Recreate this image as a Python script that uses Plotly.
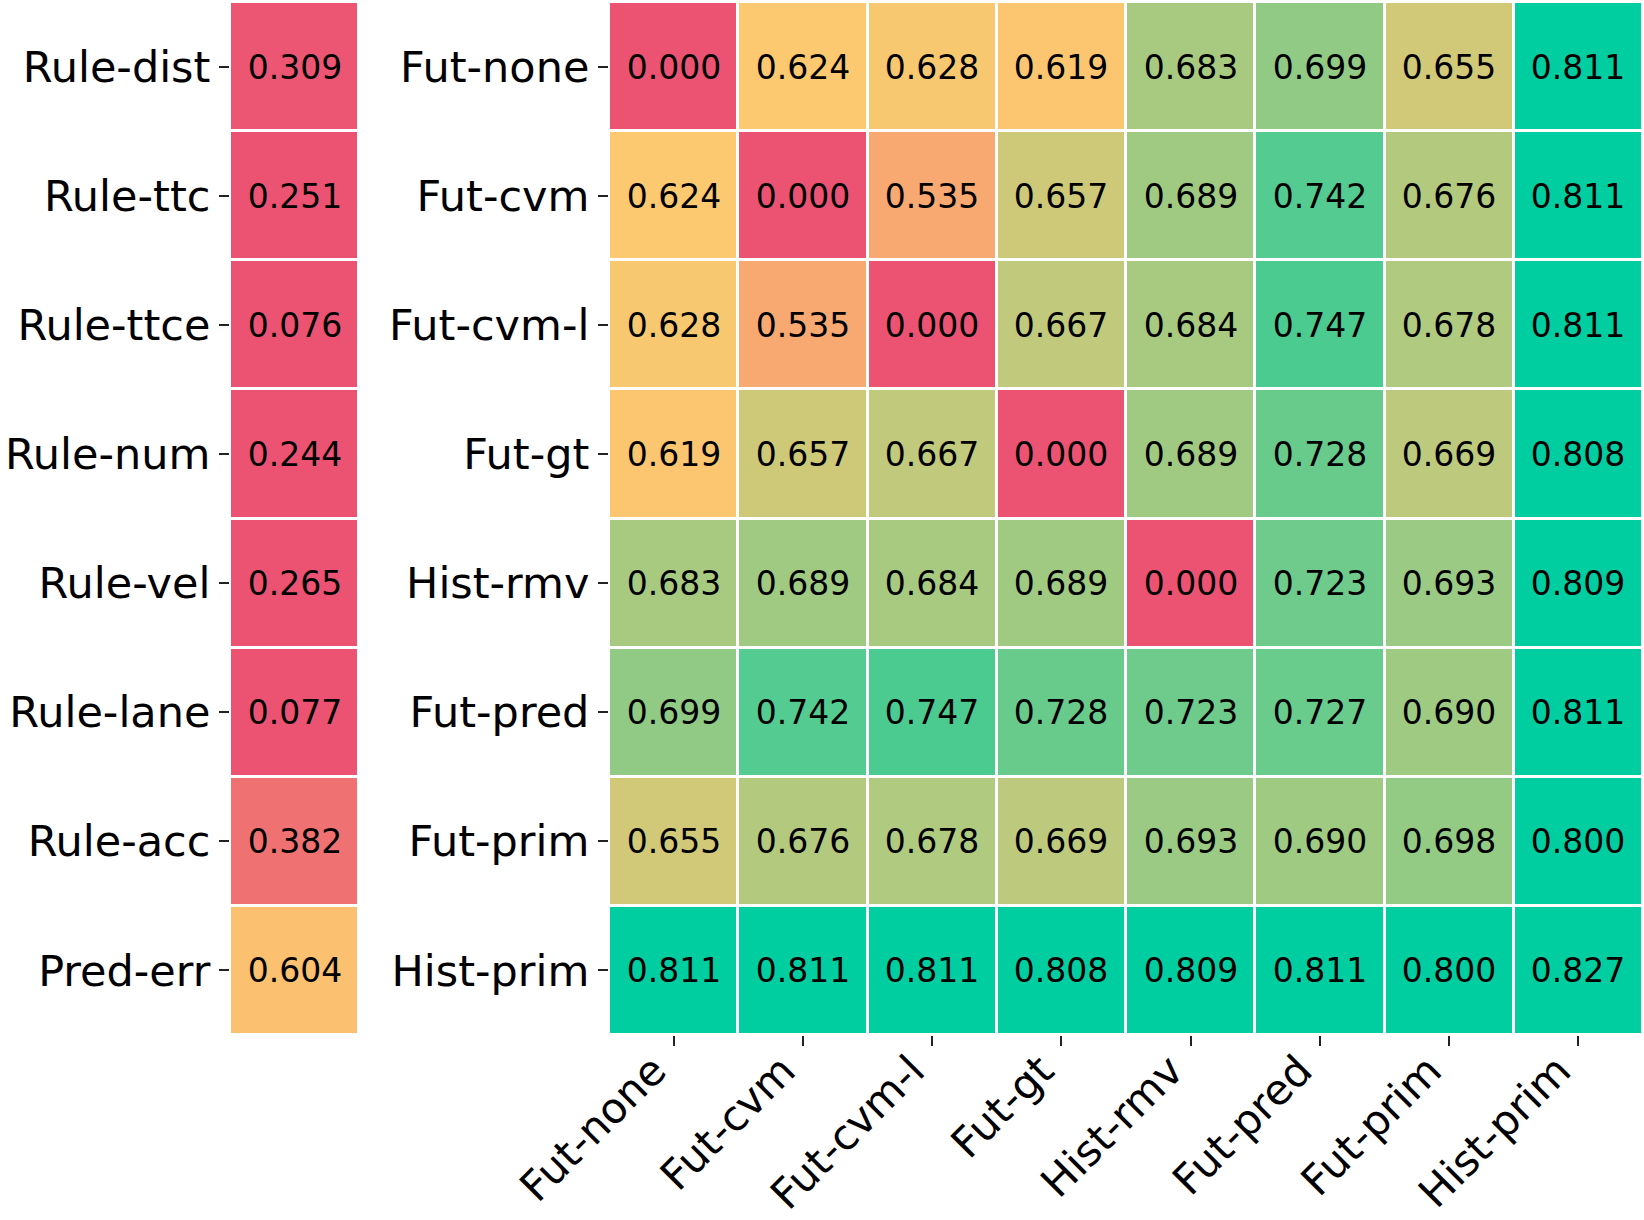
import plotly.graph_objects as go

rule_labels = ["Rule-dist", "Rule-ttc", "Rule-ttce", "Rule-num", "Rule-vel", "Rule-lane", "Rule-acc", "Pred-err"]
rule_values = [0.309, 0.251, 0.076, 0.244, 0.265, 0.077, 0.382, 0.604]

methods = ["Fut-none", "Fut-cvm", "Fut-cvm-l", "Fut-gt", "Hist-rmv", "Fut-pred", "Fut-prim", "Hist-prim"]
row_fut_none = [0.000, 0.624, 0.628, 0.619, 0.683, 0.699, 0.655, 0.811]
row_fut_cvm = [0.624, 0.000, 0.535, 0.657, 0.689, 0.742, 0.676, 0.811]
row_fut_cvm_l = [0.628, 0.535, 0.000, 0.667, 0.684, 0.747, 0.678, 0.811]
row_fut_gt = [0.619, 0.657, 0.667, 0.000, 0.689, 0.728, 0.669, 0.808]
row_hist_rmv = [0.683, 0.689, 0.684, 0.689, 0.000, 0.723, 0.693, 0.809]
row_fut_pred = [0.699, 0.742, 0.747, 0.728, 0.723, 0.727, 0.690, 0.811]
row_fut_prim = [0.655, 0.676, 0.678, 0.669, 0.693, 0.690, 0.698, 0.800]
row_hist_prim = [0.811, 0.811, 0.811, 0.808, 0.809, 0.811, 0.800, 0.827]
matrix = [row_fut_none, row_fut_cvm, row_fut_cvm_l, row_fut_gt,
          row_hist_rmv, row_fut_pred, row_fut_prim, row_hist_prim]

ZMIN, ZMID, ZMAX = 0.30, 0.625, 0.80
colorscale = [
    [0.0, "#EC5373"],
    [(ZMID - ZMIN) / (ZMAX - ZMIN), "#FCC870"],
    [1.0, "#00CDA0"],
]

W, H = 1644, 1220
FONT = "DejaVu Sans"

def px_x(p):
    return p / W

def px_y(p):
    return 1 - p / H

fig = go.Figure()

fig.add_trace(go.Heatmap(
    z=[[v] for v in rule_values],
    x=["v"],
    y=rule_labels,
    zmin=ZMIN, zmax=ZMAX,
    colorscale=colorscale,
    showscale=False,
    xgap=3, ygap=3,
    texttemplate="%{z:.3f}",
    textfont=dict(size=33, color="black", family=FONT),
    hoverinfo="skip",
    xaxis="x", yaxis="y",
))

fig.add_trace(go.Heatmap(
    z=matrix,
    x=methods,
    y=methods,
    zmin=ZMIN, zmax=ZMAX,
    colorscale=colorscale,
    showscale=False,
    xgap=3, ygap=3,
    texttemplate="%{z:.3f}",
    textfont=dict(size=33, color="black", family=FONT),
    hoverinfo="skip",
    xaxis="x2", yaxis="y2",
))

y_dom = [px_y(1035), px_y(2)]
axis_common = dict(ticks="outside", ticklen=10, tickwidth=2, tickcolor="#222",
                   showgrid=False, zeroline=False, showline=False, automargin=False)
yfont = dict(size=43, color="black", family=FONT)
xfont = dict(size=42, color="black", family=FONT)

fig.update_layout(
    width=W, height=H,
    margin=dict(l=0, r=0, t=0, b=0),
    paper_bgcolor="white", plot_bgcolor="white",
    font=dict(family=FONT, color="black"),
    xaxis=dict(domain=[px_x(230), px_x(359)], showticklabels=False, ticks="",
               showgrid=False, zeroline=False, showline=False, anchor="y"),
    yaxis=dict(domain=y_dom, autorange="reversed", anchor="x", tickfont=yfont, **axis_common),
    xaxis2=dict(domain=[px_x(609), px_x(1643)], anchor="y2", tickangle=-45, tickfont=xfont,
                ticklabelshift=-20, ticklabelstandoff=-17, **axis_common),
    yaxis2=dict(domain=y_dom, autorange="reversed", anchor="x2", tickfont=yfont, **axis_common),
)

fig.write_html("out.html", config={"displayModeBar": False},
               post_script="document.body.style.margin='0';document.body.style.overflow='hidden';")
